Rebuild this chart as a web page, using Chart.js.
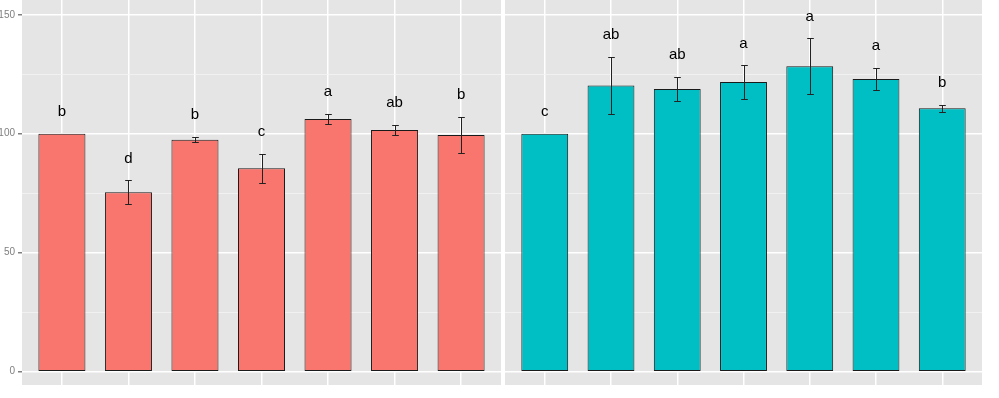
<!DOCTYPE html>
<html>
<head>
<meta charset="utf-8">
<script src="https://cdn.jsdelivr.net/npm/chart.js@4/dist/chart.umd.min.js"></script>
<style>
  html, body { margin: 0; padding: 0; background: #fff; }
  .panel { position: absolute; top: 0; height: 398px; }
  #leftBox { left: 0; width: 501px; }
  #rightBox { left: 505px; width: 477px; }
</style>
</head>
<body>
<div class="panel" id="leftBox"><canvas id="leftChart"></canvas></div>
<div class="panel" id="rightBox"><canvas id="rightChart"></canvas></div>
<script>
// treatments (axis labels are cut off in the picture)
const categories = ['1', '2', '3', '4', '5', '6', '7'];
const yTicks = [0, 50, 100, 150];

const leftMeans = [100, 75.4, 97.5, 85.5, 106.2, 101.6, 99.5];
const leftErrors = [0, 5.0, 1.1, 6.1, 2.3, 2.2, 7.5];
const leftLetters = ['b', 'd', 'b', 'c', 'a', 'ab', 'b'];

const rightMeans = [100, 120.3, 118.8, 121.7, 128.4, 123.0, 110.7];
const rightErrors = [0, 12.1, 5.0, 7.0, 11.7, 4.8, 1.4];
const rightLetters = ['c', 'ab', 'ab', 'a', 'a', 'a', 'b'];

const FONT = "'Liberation Sans', Arial, sans-serif";

function makePanel(canvasId, means, errors, letters, fill, showY) {
  const ctx = document.getElementById(canvasId).getContext('2d');

  const panelBackground = {
    id: 'panelBackground',
    beforeDraw(chart) {
      const a = chart.chartArea;
      const c = chart.ctx;
      c.save();
      c.fillStyle = '#e5e5e5';
      c.fillRect(a.left, a.top, a.right - a.left, a.bottom - a.top);
      c.restore();
    }
  };

  const errorBars = {
    id: 'errorBars',
    afterDatasetsDraw(chart) {
      const x = chart.scales.x;
      const y = chart.scales.y;
      const c = chart.ctx;
      const step = x.getPixelForValue(2) - x.getPixelForValue(1);
      const half = step * 0.05;
      c.save();
      c.strokeStyle = '#222';
      c.lineWidth = 1;
      means.forEach((m, i) => {
        const px = Math.round(x.getPixelForValue(i + 1)) + 0.5;
        const e = errors[i];
        if (e > 0) {
          const top = Math.round(y.getPixelForValue(m + e)) + 0.5;
          const bot = Math.round(y.getPixelForValue(m - e)) + 0.5;
          c.beginPath();
          c.moveTo(px, top); c.lineTo(px, bot);
          c.moveTo(px - half, top); c.lineTo(px + half, top);
          c.moveTo(px - half, bot); c.lineTo(px + half, bot);
          c.stroke();
        }
        c.fillStyle = '#000';
        c.font = '15px ' + FONT;
        c.textAlign = 'center';
        c.textBaseline = 'middle';
        c.fillText(letters[i], x.getPixelForValue(i + 1), y.getPixelForValue(m + e + 9.2));
      });
      c.restore();
    }
  };

  return new Chart(ctx, {
    type: 'bar',
    data: {
      datasets: [{
        data: means.map((m, i) => ({ x: i + 1, y: m })),
        backgroundColor: fill,
        borderColor: '#1a1a1a',
        borderWidth: 1,
        borderSkipped: false,
        categoryPercentage: 1,
        barPercentage: 0.707
      }]
    },
    options: {
      responsive: true,
      maintainAspectRatio: false,
      animation: false,
      devicePixelRatio: 1,
      layout: { padding: { top: 0, left: 0, right: 0, bottom: 13 } },
      plugins: { legend: { display: false }, tooltip: { enabled: false } },
      scales: {
        x: {
          type: 'linear',
          min: 0.4,
          max: 7.6,
          offset: false,
          border: { display: false },
          ticks: { display: false, stepSize: 1, includeBounds: false },
          grid: { color: '#ffffff', lineWidth: 1.5, drawTicks: false, offset: false },
          afterFit(scale) { scale.height = 0; scale.paddingLeft = 0; scale.paddingRight = 0; }
        },
        y: {
          min: -5.6,
          max: 156.2,
          border: { display: false },
          ticks: {
            display: showY,
            stepSize: 25,
            includeBounds: false,
            padding: 3,
            color: '#7f7f7f',
            font: { family: FONT, size: 10 },
            callback: (v) => yTicks.includes(v) ? String(v) : ''
          },
          grid: {
            drawTicks: showY,
            tickLength: 4,
            tickColor: (c) => yTicks.includes(c.tick && c.tick.value) ? '#7f7f7f' : 'rgba(0,0,0,0)',
            color: (c) => yTicks.includes(c.tick && c.tick.value) ? '#ffffff' : '#f4f4f4',
            lineWidth: (c) => yTicks.includes(c.tick && c.tick.value) ? 1.5 : 0.8
          },
          afterFit(scale) {
            scale.width = showY ? 22 : 0;
            scale.paddingTop = 0;
            scale.paddingBottom = 0;
          }
        }
      }
    },
    plugins: [panelBackground, errorBars]
  });
}

makePanel('leftChart', leftMeans, leftErrors, leftLetters, '#f8766d', true);
makePanel('rightChart', rightMeans, rightErrors, rightLetters, '#00bfc4', false);
</script>
</body>
</html>
